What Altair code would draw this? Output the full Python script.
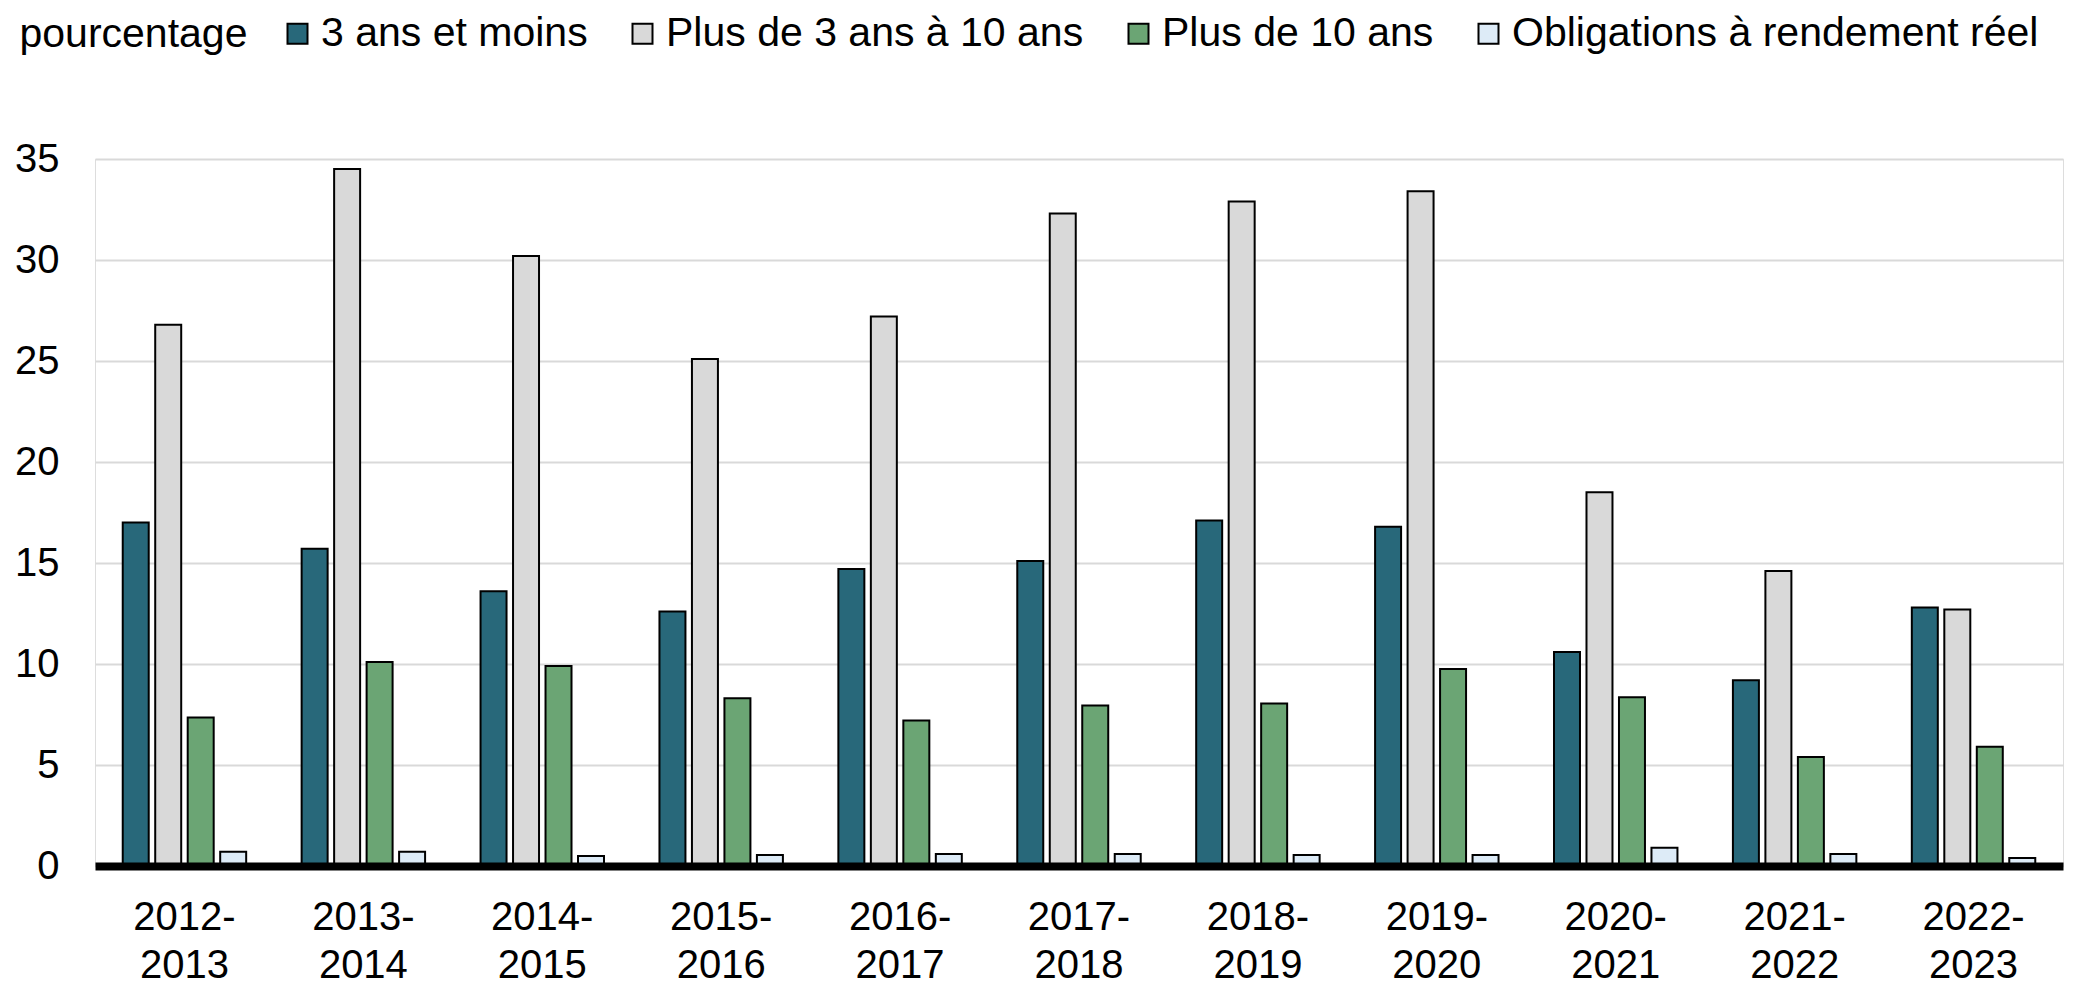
import altair as alt
import pandas as pd

periods = ["2012-2013", "2013-2014", "2014-2015", "2015-2016", "2016-2017", "2017-2018",
           "2018-2019", "2019-2020", "2020-2021", "2021-2022", "2022-2023"]
series_names = ["3 ans et moins", "Plus de 3 ans à 10 ans", "Plus de 10 ans",
                "Obligations à rendement réel"]
short_term = [17.0, 15.7, 13.6, 12.6, 14.7, 15.1, 17.1, 16.8, 10.6, 9.2, 12.8]
mid_term = [26.8, 34.5, 30.2, 25.1, 27.2, 32.3, 32.9, 33.4, 18.5, 14.6, 12.7]
long_term = [7.35, 10.1, 9.9, 8.3, 7.2, 7.95, 8.05, 9.75, 8.35, 5.4, 5.9]
real_return = [0.7, 0.7, 0.5, 0.55, 0.6, 0.6, 0.55, 0.55, 0.9, 0.6, 0.4]
colors = ["#28687A", "#D9D9D9", "#6BA574", "#DDEBF7"]

rows = []
for name, vals in zip(series_names, [short_term, mid_term, long_term, real_return]):
    for p, v in zip(periods, vals):
        rows.append({"periode": p, "serie": name, "valeur": v})
df = pd.DataFrame(rows)

FONT = "Liberation Sans"

chart = alt.Chart(df).mark_bar(stroke="black", strokeWidth=2).encode(
    x=alt.X("periode:N", sort=periods, title=None,
            scale=alt.Scale(paddingInner=0.31, paddingOuter=0.155),
            axis=alt.Axis(labelAngle=0, labelFontSize=40, labelFont=FONT, labelColor="black",
                          labelExpr="[substring(datum.label, 0, 5), substring(datum.label, 5)]",
                          labelLineHeight=48, labelPadding=31, ticks=False, tickSize=0,
                          domainColor="black", domainWidth=8, grid=False, zindex=1)),
    xOffset=alt.XOffset("serie:N", sort=series_names,
                        scale=alt.Scale(paddingInner=0.2, paddingOuter=0)),
    y=alt.Y("valeur:Q", scale=alt.Scale(domain=[0, 35], nice=False),
            axis=alt.Axis(values=[0, 5, 10, 15, 20, 25, 30, 35], title="pourcentage",
                          titleAngle=0, titleAlign="left", titleBaseline="alphabetic",
                          titleX=-76, titleY=-113, titleFontSize=41, titleFont=FONT,
                          titleFontWeight="normal", titleColor="black",
                          labelFontSize=40, labelFont=FONT, labelColor="black",
                          labelPadding=36, ticks=False, domain=False,
                          gridColor="#D9D9D9", gridWidth=2)),
    color=alt.Color("serie:N", sort=series_names,
                    scale=alt.Scale(domain=series_names, range=colors),
                    legend=alt.Legend(title=None, orient="none", direction="horizontal",
                                      legendX=182, legendY=-146, columns=4,
                                      symbolType="square", symbolSize=400,
                                      symbolStrokeColor="black", symbolStrokeWidth=2,
                                      labelFontSize=41, labelFont=FONT, labelColor="black",
                                      labelOffset=3, columnPadding=34, padding=0,
                                      labelLimit=0)),
).properties(
    width=1968, height=707,
    autosize=alt.AutoSizeParams(type="none"),
    padding={"left": 87, "top": 151, "right": 11, "bottom": 130},
).configure_view(stroke=None).configure(background="white")

chart.save("out.html", embed_options={"renderer": "svg", "actions": False})
